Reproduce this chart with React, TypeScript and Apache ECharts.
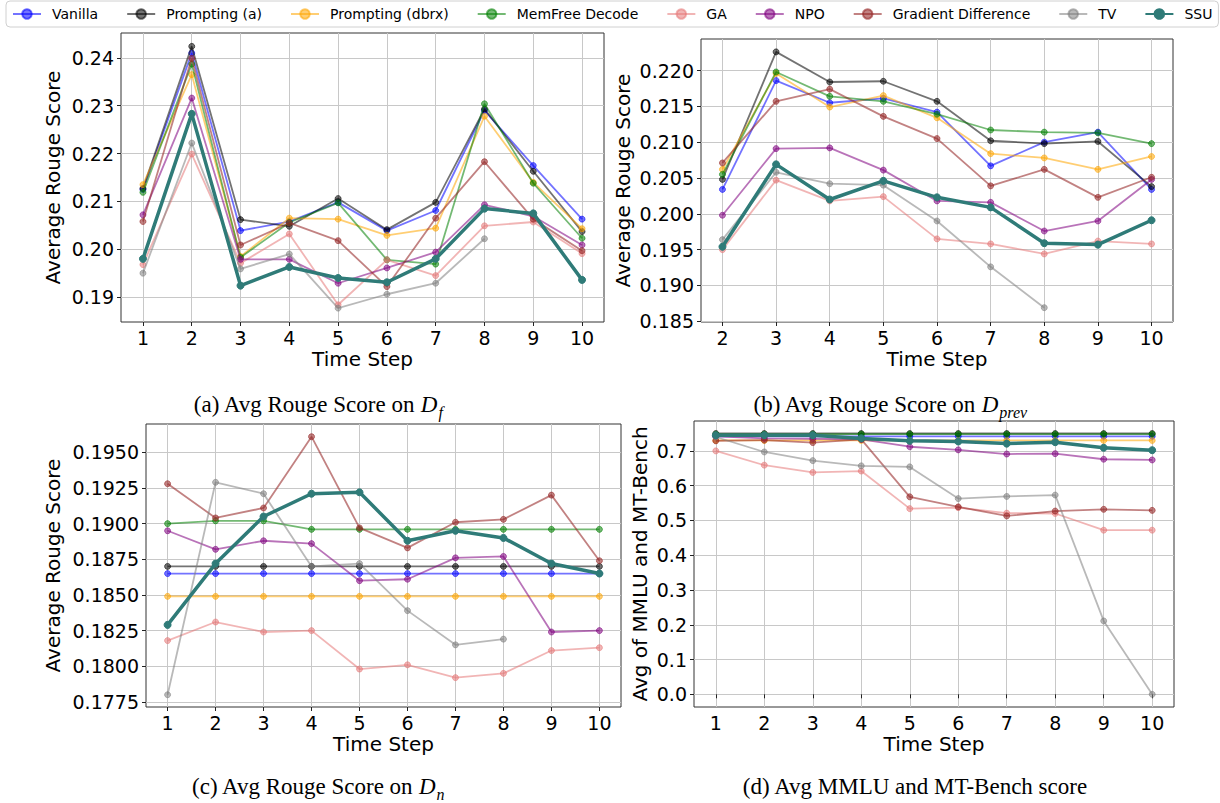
import React, { useEffect, useRef } from 'react';
import * as echarts from 'echarts';

const seriesNames = ['Vanilla', 'Prompting (a)', 'Prompting (dbrx)', 'MemFree Decode', 'GA', 'NPO', 'Gradient Difference', 'TV', 'SSU'];

// x values (time steps)
const stepsA = [1, 2, 3, 4, 5, 6, 7, 8, 9, 10];
const stepsB = [2, 3, 4, 5, 6, 7, 8, 9, 10];
const stepsC = [1, 2, 3, 4, 5, 6, 7, 8, 9, 10];
const stepsD = [1, 2, 3, 4, 5, 6, 7, 8, 9, 10];

// tick labels
const xTicksA = [1, 2, 3, 4, 5, 6, 7, 8, 9, 10];
const xTicksB = [2, 3, 4, 5, 6, 7, 8, 9, 10];
const yTicksA = [0.19, 0.2, 0.21, 0.22, 0.23, 0.24];
const yTicksB = [0.185, 0.19, 0.195, 0.2, 0.205, 0.21, 0.215, 0.22];
const yTicksC = [0.1775, 0.18, 0.1825, 0.185, 0.1875, 0.19, 0.1925, 0.195];
const yTicksD = [0, 0.1, 0.2, 0.3, 0.4, 0.5, 0.6, 0.7];

// (a) Avg Rouge Score on D_f
const vanillaA = [0.2125, 0.2410, 0.2039, 0.2058, 0.2098, 0.2039, 0.2081, 0.2290, 0.2175, 0.2063];
const promptA = [0.2127, 0.2424, 0.2062, 0.2048, 0.2106, 0.2041, 0.2098, 0.2293, 0.2163, 0.2037];
const dbrxA = [0.2135, 0.2365, 0.1985, 0.2065, 0.2063, 0.2029, 0.2044, 0.2278, 0.2140, 0.2043];
const memfreeA = [0.2119, 0.2387, 0.1983, 0.2056, 0.2097, 0.1978, 0.1969, 0.2304, 0.2138, 0.2023];
const gaA = [0.1968, 0.2199, 0.1971, 0.2032, 0.1884, 0.1978, 0.1945, 0.2049, 0.2057, 0.1991];
const npoA = [0.2072, 0.2316, 0.1979, 0.1979, 0.1929, 0.1961, 0.1994, 0.2093, 0.2069, 0.2009];
const gdA = [0.2058, 0.2399, 0.2009, 0.2055, 0.2018, 0.1922, 0.2065, 0.2183, 0.2063, 0.1997];
const tvA = [0.1950, 0.2222, 0.1959, 0.1990, 0.1877, 0.1906, 0.1929, 0.2022];
const ssuA = [0.1980, 0.2283, 0.1924, 0.1963, 0.1940, 0.1931, 0.1980, 0.2085, 0.2075, 0.1936];

// (b) Avg Rouge Score on D_prev
const vanillaB = [0.2034, 0.2186, 0.2155, 0.2161, 0.2142, 0.2067, 0.2100, 0.2114, 0.2034];
const promptB = [0.2048, 0.2226, 0.2184, 0.2185, 0.2157, 0.2102, 0.2098, 0.2101, 0.2038];
const dbrxB = [0.2062, 0.2196, 0.2149, 0.2165, 0.2134, 0.2084, 0.2078, 0.2062, 0.2080];
const memfreeB = [0.2055, 0.2198, 0.2164, 0.2157, 0.2139, 0.2117, 0.2114, 0.2113, 0.2098];
const gaB = [0.1950, 0.2047, 0.2018, 0.2024, 0.1965, 0.1958, 0.1944, 0.1962, 0.1958];
const npoB = [0.1998, 0.2091, 0.2092, 0.2061, 0.2018, 0.2016, 0.1976, 0.1990, 0.2048];
const gdB = [0.2071, 0.2157, 0.2174, 0.2136, 0.2105, 0.2039, 0.2062, 0.2023, 0.2051];
const tvB = [0.1964, 0.2058, 0.2042, 0.2040, 0.1990, 0.1926, 0.1869];
const ssuB = [0.1954, 0.2069, 0.2020, 0.2046, 0.2023, 0.2009, 0.1959, 0.1957, 0.1991];

// (c) Avg Rouge Score on D_n
const vanillaC = [0.1865, 0.1865, 0.1865, 0.1865, 0.1865, 0.1865, 0.1865, 0.1865, 0.1865, 0.1865];
const promptC = [0.1870, 0.1870, 0.1870, 0.1870, 0.1870, 0.1870, 0.1870, 0.1870, 0.1870, 0.1870];
const dbrxC = [0.1849, 0.1849, 0.1849, 0.1849, 0.1849, 0.1849, 0.1849, 0.1849, 0.1849, 0.1849];
const memfreeC = [0.1900, 0.1902, 0.1902, 0.1896, 0.1896, 0.1896, 0.1896, 0.1896, 0.1896, 0.1896];
const gaC = [0.1818, 0.1831, 0.1824, 0.1825, 0.1798, 0.1801, 0.1792, 0.1795, 0.1811, 0.1813];
const npoC = [0.1895, 0.1882, 0.1888, 0.1886, 0.1860, 0.1861, 0.1876, 0.1877, 0.1824, 0.1825];
const gdC = [0.1928, 0.1904, 0.1911, 0.1961, 0.1897, 0.1883, 0.1901, 0.1903, 0.1920, 0.1874];
const tvC = [0.1780, 0.1929, 0.1921, 0.1870, 0.1872, 0.1839, 0.1815, 0.1819];
const ssuC = [0.1829, 0.1872, 0.1905, 0.1921, 0.1922, 0.1888, 0.1895, 0.1890, 0.1872, 0.1865];

// (d) Avg MMLU and MT-Bench score
const vanillaD = [0.742, 0.742, 0.742, 0.742, 0.742, 0.742, 0.742, 0.742, 0.742, 0.742];
const promptD = [0.750, 0.750, 0.750, 0.750, 0.750, 0.750, 0.750, 0.750, 0.750, 0.750];
const dbrxD = [0.730, 0.730, 0.730, 0.730, 0.730, 0.730, 0.730, 0.730, 0.730, 0.730];
const memfreeD = [0.748, 0.748, 0.748, 0.748, 0.748, 0.748, 0.748, 0.748, 0.748, 0.748];
const gaD = [0.700, 0.659, 0.638, 0.642, 0.534, 0.537, 0.521, 0.520, 0.472, 0.472];
const npoD = [0.742, 0.736, 0.735, 0.733, 0.712, 0.703, 0.691, 0.692, 0.676, 0.674];
const gdD = [0.729, 0.731, 0.724, 0.733, 0.568, 0.539, 0.513, 0.527, 0.532, 0.529];
const tvD = [0.740, 0.697, 0.672, 0.657, 0.654, 0.563, 0.569, 0.573, 0.211, 0.000];
const ssuD = [0.745, 0.745, 0.745, 0.736, 0.729, 0.727, 0.721, 0.725, 0.709, 0.702];

const panelA = [vanillaA, promptA, dbrxA, memfreeA, gaA, npoA, gdA, tvA, ssuA];
const panelB = [vanillaB, promptB, dbrxB, memfreeB, gaB, npoB, gdB, tvB, ssuB];
const panelC = [vanillaC, promptC, dbrxC, memfreeC, gaC, npoC, gdC, tvC, ssuC];
const panelD = [vanillaD, promptD, dbrxD, memfreeD, gaD, npoD, gdD, tvD, ssuD];

const colors = [
  'rgba(0,0,255,0.55)',
  'rgba(0,0,0,0.55)',
  'rgba(255,165,0,0.55)',
  'rgba(0,128,0,0.55)',
  'rgba(230,120,120,0.55)',
  'rgba(128,0,128,0.55)',
  'rgba(150,40,40,0.58)',
  'rgba(128,128,128,0.55)',
  'rgb(47,123,120)',
];

const SANS = 'DejaVu Sans';
const SERIF = 'Liberation Serif';

export default function App() {
  const ref = useRef<HTMLDivElement>(null);
  useEffect(() => {
    if (!ref.current) return;
    const chart = echarts.init(ref.current, undefined, { renderer: 'svg' });

    const grids = [
      { left: 121, top: 33, width: 483, height: 289 },
      { left: 701, top: 39, width: 472, height: 283 },
      { left: 146, top: 424, width: 475, height: 283 },
      { left: 694, top: 421, width: 480, height: 286 },
    ];
    const xCfg = [
      { min: 0.55, max: 10.45, ticks: xTicksA, steps: stepsA, data: panelA },
      { min: 1.6, max: 10.4, ticks: xTicksB, steps: stepsB, data: panelB },
      { min: 0.55, max: 10.45, ticks: xTicksA, steps: stepsC, data: panelC },
      { min: 0.55, max: 10.45, ticks: xTicksA, steps: stepsD, data: panelD },
    ];
    const yCfg = [
      { min: 0.1848, max: 0.2452, ticks: yTicksA, dec: 2, name: 'Average Rouge Score', gap: 58 },
      { min: 0.1849, max: 0.2244, ticks: yTicksB, dec: 3, name: 'Average Rouge Score', gap: 68 },
      { min: 0.17714, max: 0.19699, ticks: yTicksC, dec: 4, name: 'Average Rouge Score', gap: 83 },
      { min: -0.0365, max: 0.786, ticks: yTicksD, dec: 1, name: 'Avg of MMLU and MT-Bench', gap: 44 },
    ];
    const splitLine = { show: true, lineStyle: { color: '#c8c8c8', width: 1 } };
    const tickStyle = { lineStyle: { color: '#222', width: 1 } };

    const xAxis = xCfg.map((c, i) => ({
      type: 'value',
      gridIndex: i,
      min: c.min,
      max: c.max,
      name: 'Time Step',
      nameLocation: 'middle',
      nameGap: 27,
      nameTextStyle: { fontFamily: SANS, fontSize: 20, color: '#000', lineHeight: 20 },
      axisLine: { show: false },
      axisTick: { show: true, length: 4, customValues: c.ticks, ...tickStyle },
      axisLabel: { customValues: c.ticks, fontFamily: SANS, fontSize: 19, lineHeight: 19, color: '#000', margin: 6, formatter: (v: number) => String(Math.round(v)) },
      splitLine,
    }));
    const yAxis = yCfg.map((c, i) => ({
      type: 'value',
      gridIndex: i,
      min: c.min,
      max: c.max,
      name: c.name,
      nameLocation: 'middle',
      nameGap: c.gap,
      nameTextStyle: { fontFamily: SANS, fontSize: 20, color: '#000' },
      axisLine: { show: false },
      axisTick: { show: true, length: 4, customValues: c.ticks, ...tickStyle },
      axisLabel: { customValues: c.ticks, fontFamily: SANS, fontSize: 19, color: '#000', margin: 7, formatter: (v: number) => v.toFixed(c.dec) },
      splitLine,
    }));

    const series: any[] = [];
    xCfg.forEach((c, g) => {
      c.data.forEach((vals, k) => {
        const isSSU = k === 8;
        series.push({
          type: 'line',
          name: seriesNames[k],
          xAxisIndex: g,
          yAxisIndex: g,
          data: vals.map((v, j) => [c.steps[j], v]),
          symbol: 'circle',
          symbolSize: isSSU ? 7 : 6,
          z: 2 + k,
          lineStyle: { color: colors[k], width: isSSU ? 3.5 : 1.8 },
          itemStyle: { color: colors[k], borderColor: colors[k], borderWidth: 1 },
          emphasis: { disabled: true },
        });
      });
    });

    const capRich = () => ({
      a: { fontFamily: SERIF, fontSize: 23, fill: '#000', lineHeight: 32 },
      d: { fontFamily: SERIF, fontSize: 23, fontStyle: 'italic', fill: '#000', lineHeight: 32 },
      s: { fontFamily: SERIF, fontSize: 16, fontStyle: 'italic', fill: '#000', lineHeight: 16, verticalAlign: 'bottom', padding: [0, 0, 0, 1] },
    });
    const caption = (x: number, y: number, label: string, sub: string) => ({
      type: 'text',
      x,
      y,
      style: {
        text: sub ? `{a|${label}}{d|D}{s|${sub}}` : `{a|${label}}`,
        align: 'center',
        verticalAlign: 'middle',
        rich: capRich(),
      },
    });

    chart.setOption({
      animation: false,
      backgroundColor: '#fff',
      grid: grids.map((g) => ({ ...g, show: true, borderColor: '#333', borderWidth: 1, backgroundColor: 'transparent' })),
      xAxis,
      yAxis,
      legend: {
        left: 6,
        top: 1,
        padding: [6, 6, 6, 6],
        itemWidth: 28,
        itemHeight: 12,
        itemGap: 28,
        borderColor: '#d0d0d0',
        borderWidth: 1,
        borderRadius: 4,
        textStyle: { fontFamily: SANS, fontSize: 14, color: '#000', padding: [0, 0, 0, 6] },
        data: seriesNames,
      },
      series,
      graphic: [
        caption(318, 404, '(a) Avg Rouge Score on ', 'f'),
        caption(890, 404, '(b) Avg Rouge Score on ', 'prev'),
        caption(318, 786, '(c) Avg Rouge Score on ', 'n'),
        caption(915, 786, '(d) Avg MMLU and MT-Bench score', ''),
      ],
    });
    return () => chart.dispose();
  }, []);
  return (
    <div
      ref={ref}
      style={{ position: 'fixed', left: 0, top: 0, width: 1220, height: 803, background: '#fff' }}
    />
  );
}
